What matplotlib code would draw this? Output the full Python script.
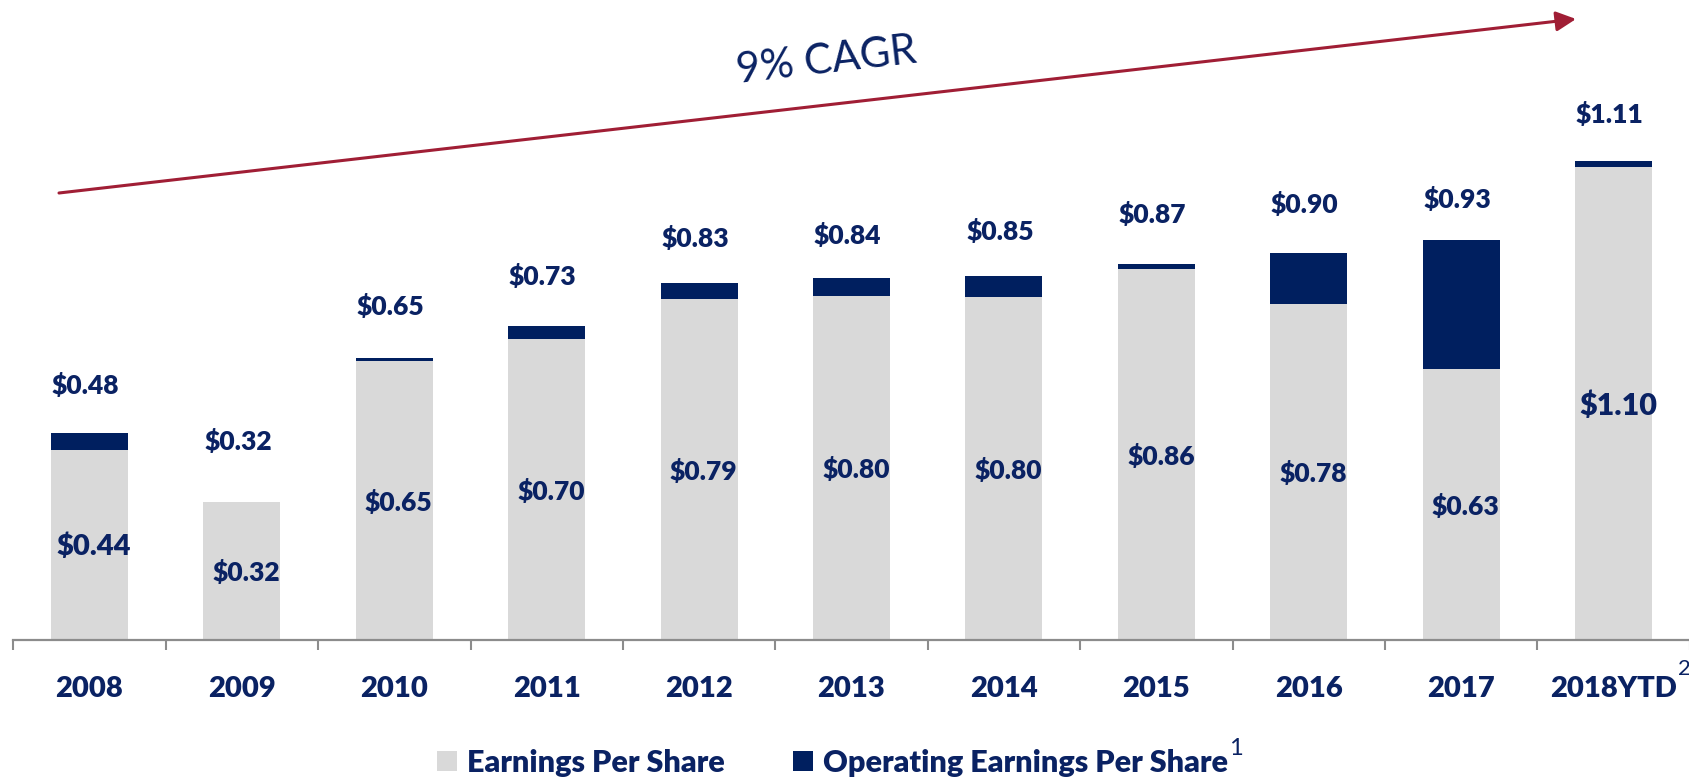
import numpy as np
import matplotlib
matplotlib.use("Agg")
import matplotlib.pyplot as plt
from matplotlib.patches import Patch
from matplotlib.font_manager import FontProperties

# ---- data ----
years = ["2008", "2009", "2010", "2011", "2012", "2013", "2014", "2015", "2016", "2017", "2018YTD"]
eps = [0.44, 0.32, 0.647, 0.70, 0.792, 0.80, 0.797, 0.862, 0.78, 0.63, 1.098]
operating_eps = [0.48, 0.32, 0.654, 0.73, 0.83, 0.84, 0.846, 0.874, 0.90, 0.93, 1.112]
legend_labels = ["Earnings Per Share", "Operating Earnings Per Share"]
cagr_text = "9% CAGR"

# ---- style ----
W, H = 1690, 781
GRAY = "#D9D9D9"
NAVY = "#001F5F"
TEXT = "#0A2263"
AXIS = "#8C8C8C"
RED = "#A01E35"
FONT = "Lato"
WEIGHT = "heavy"
top_label_offsets = [48, 60, 52, 49, 44, 43, 44, 49, 48, 40, 47]  # pixels above bar top
inside_sizes = [21, 19, 19, 19, 19, 19, 19, 19, 19, 19, 22]

fig = plt.figure(figsize=(W / 100, H / 100), dpi=100)
ax = fig.add_axes([13.3 / W, 141.5 / H, 1676.4 / W, 639.5 / H])

x = np.arange(len(years))
op_part = [t - e for t, e in zip(operating_eps, eps)]
bw = 0.505
ax.bar(x, eps, width=bw, color=GRAY, linewidth=0)
ax.bar(x, op_part, bottom=eps, width=bw, color=NAVY, linewidth=0)

ax.set_xlim(-0.5, len(years) - 0.5)
ax.set_ylim(0, 639.5 / 430)

for s in ["left", "right", "top"]:
    ax.spines[s].set_visible(False)
ax.spines["bottom"].set_color(AXIS)
ax.spines["bottom"].set_linewidth(1.6)
ax.set_yticks([])
ax.set_xticks(x, years)
ax.set_xticks(np.arange(-0.5, len(years), 1.0), minor=True)
ax.tick_params(axis="x", which="major", length=0, pad=26, labelsize=21,
               labelcolor=TEXT)
ax.tick_params(axis="x", which="minor", length=7.5, width=1.5, color=AXIS)
for lab in ax.get_xticklabels():
    lab.set_fontfamily(FONT)
    lab.set_fontweight(WEIGHT)

# labels inside grey bars
for i, v in enumerate(eps):
    ax.text(x[i] + 0.03, v / 2 - 0.005, f"${v:.2f}", ha="center", va="center",
            fontsize=inside_sizes[i], fontweight=WEIGHT, family=FONT, color=TEXT)

# labels above bars
for i, v in enumerate(operating_eps):
    ax.annotate(f"${v:.2f}", xy=(x[i], v), xytext=(-4, top_label_offsets[i]),
                textcoords="offset pixels", ha="center", va="center",
                fontsize=19, fontweight=WEIGHT, family=FONT, color=TEXT)

# CAGR arrow and text
ax.annotate("", xy=(1576, H - 19), xytext=(59, H - 193), xycoords="figure pixels",
            textcoords="figure pixels",
            arrowprops=dict(arrowstyle="-|>,head_length=0.6,head_width=0.3",
                            color=RED, lw=2.2, shrinkA=0, shrinkB=0,
                            mutation_scale=20))
fig.text(826 / W, (H - 61) / H, cagr_text, rotation=6.5, rotation_mode="anchor",
         ha="center", va="center", fontsize=30, family=FONT, color=TEXT)

# legend
handles = [Patch(facecolor=GRAY, edgecolor="none"), Patch(facecolor=NAVY, edgecolor="none")]
leg = fig.legend(handles, legend_labels, loc="center left",
                 bbox_to_anchor=(437 / W, 18 / H), ncol=2, frameon=False,
                 prop=FontProperties(family=FONT, weight=WEIGHT, size=22),
                 handlelength=0.65, handleheight=0.65, handletextpad=0.33,
                 columnspacing=2.25, borderpad=0, borderaxespad=0, labelcolor=TEXT)

# superscripts
fig.canvas.draw()
r = fig.canvas.get_renderer()
bb = ax.get_xticklabels()[-1].get_window_extent(r)
fig.text(min(bb.x1 + 1, W - 12) / W, (bb.y1 - 3) / H, "2", ha="left", va="bottom",
         fontsize=16, family=FONT, color=TEXT)
bb2 = leg.get_texts()[1].get_window_extent(r)
fig.text((bb2.x1 + 1) / W, (bb2.y1 - 10) / H, "1", ha="left", va="bottom",
         fontsize=17, family=FONT, color=TEXT)

fig.savefig("out.png", dpi=100)
